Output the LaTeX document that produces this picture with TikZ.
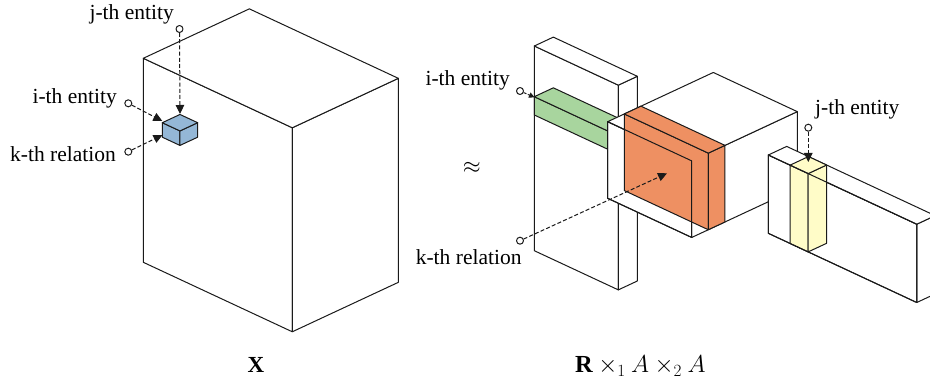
\documentclass[tikz,border=0pt]{standalone}
\usepackage{fix-cm}
\usepackage{fontspec}
\setmainfont{Liberation Serif}
\usetikzlibrary{arrows.meta}
\definecolor{cblue}{HTML}{94B7D6}
\definecolor{cgreen}{HTML}{A8D59E}
\definecolor{corange}{HTML}{EE9062}
\definecolor{cyellow}{HTML}{FFFCC8}
\definecolor{cline}{HTML}{1A1A1A}
\newcommand{\tdbox}[4]{%
  \filldraw[edge, fill=#1] (0,0,0) -- (#2,0,0) -- (#2,0,#4) -- (0,0,#4) -- cycle;
  \filldraw[edge, fill=#1] (#2,0,0) -- (#2,#3,0) -- (#2,#3,#4) -- (#2,0,#4) -- cycle;
  \filldraw[edge, fill=#1] (0,0,#4) -- (#2,0,#4) -- (#2,#3,#4) -- (0,#3,#4) -- cycle;}
\newcommand{\tdfront}[2]{\draw[edge] (0,0,0) -- (#1,0,0) -- (#1,0,#2) -- (0,0,#2) -- cycle;}
\begin{document}
\begin{tikzpicture}[x=1pt,y=-1pt, line join=round,
  edge/.style={draw=cline, line width=1pt},
  iso/.style={x={(0.9063pt,-0.4226pt)}, y={(0.9063pt,0.4226pt)}, z={(0pt,1pt)}},
  dotc/.style={circle, draw=cline, fill=white, line width=1pt, inner sep=0pt, minimum size=7pt},
  ptr/.style={draw=cline, line width=1pt, dash pattern=on 4pt off 2.2pt, -{Triangle[length=9pt,width=8.5pt]}},
  ptrs/.style={draw=cline, line width=1pt, dash pattern=on 3pt off 1.5pt, -{Triangle[length=5.5pt,width=5.5pt]}},
  lbl/.style={inner sep=0pt, font=\fontsize{21.5}{25}\selectfont},
  big/.style={inner sep=0pt, font=\fontsize{23}{27}\selectfont},
  bigf/.style={inner sep=0pt, font=\fontsize{24.5}{28}\selectfont}]
\clip (0,0) rectangle (930,385);
\fill[white] (0,0) rectangle (930,385);

% ---- X tensor ----
\begin{scope}[shift={(143.3pt,-262.3pt)}, iso]
  \tdbox{white}{164.4}{117}{204}
\end{scope}
\begin{scope}[shift={(162.3pt,-137.2pt)}, iso]
  \tdbox{cblue}{19.5}{19.5}{14.5}
\end{scope}

% ---- A (left factor) ----
\begin{scope}[shift={(534.3pt,-250.7pt)}, iso]
  \tdbox{white}{92.7}{21}{204.7}
  \begin{scope}[shift={(0,0,135.7)}]
    \tdbox{cgreen}{92.7}{21}{18.3}
  \end{scope}
\end{scope}

% ---- R core ----
\begin{scope}[shift={(607.7pt,-198.3pt)}, iso]
  \tdbox{white}{92.7}{116.5}{76.6}
  \begin{scope}[shift={(0,18.3,0)}]
    \tdbox{corange}{92.7}{18.4}{76.6}
  \end{scope}
  \tdfront{92.7}{76.6}
\end{scope}

% ---- A^T (right factor) ----
\begin{scope}[shift={(768.3pt,-233.3pt)}, iso]
  \tdbox{white}{163.8}{20.3}{78.3}
  \begin{scope}[shift={(24,0,0)}]
    \tdbox{cyellow}{20}{20.3}{78.3}
  \end{scope}
  \tdfront{163.8}{78.3}
\end{scope}

% ---- pointers, left ----
\node[dotc] (cj1) at (179.5,29) {};
\coordinate (tj1) at (180,114);
\draw[ptr] (cj1) -- (tj1);
\node[dotc] (ci1) at (128.3,103.3) {};
\coordinate (ti1) at (162.3,121);
\draw[ptr] (ci1) -- (ti1);
\node[dotc] (ck1) at (128.3,151.7) {};
\coordinate (tk1) at (162.5,135);
\draw[ptr] (ck1) -- (tk1);
\node[lbl, anchor=base east] (lj1) at (174,20) {j-th entity};
\node[lbl, anchor=base east] (li1) at (117,104) {i-th entity};
\node[lbl, anchor=base east] (lk1) at (116,161.5) {k-th relation};

% ---- pointers, right ----
\node[dotc] (ci2) at (520,91) {};
\coordinate (ti2) at (534.5,97.3);
\draw[ptrs] (ci2) -- (ti2);
\node[dotc] (ck2) at (520,240.7) {};
\coordinate (tk2) at (667,173.3);
\draw[ptr] (ck2) -- (tk2);
\node[dotc] (cj2) at (808.3,127.7) {};
\coordinate (tj2) at (808.3,162);
\draw[ptr] (cj2) -- (tj2);
\node[lbl, anchor=base east] (li2) at (510,85.7) {i-th entity};
\node[lbl, anchor=base east] (lk2) at (521.7,264) {k-th relation};
\node[lbl, anchor=base west] (lj2) at (815,115) {j-th entity};

% ---- symbols ----
\node[big] (approx) at (471.7,168.3) {$\approx$};
\node[big, anchor=base] (xlab) at (256,372.7) {$\mathbf{X}$};
\node[bigf, anchor=base west] (rlab) at (575,372.7) {$\mathbf{R}\times_1 A\times_2 A$};
\end{tikzpicture}
\end{document}
